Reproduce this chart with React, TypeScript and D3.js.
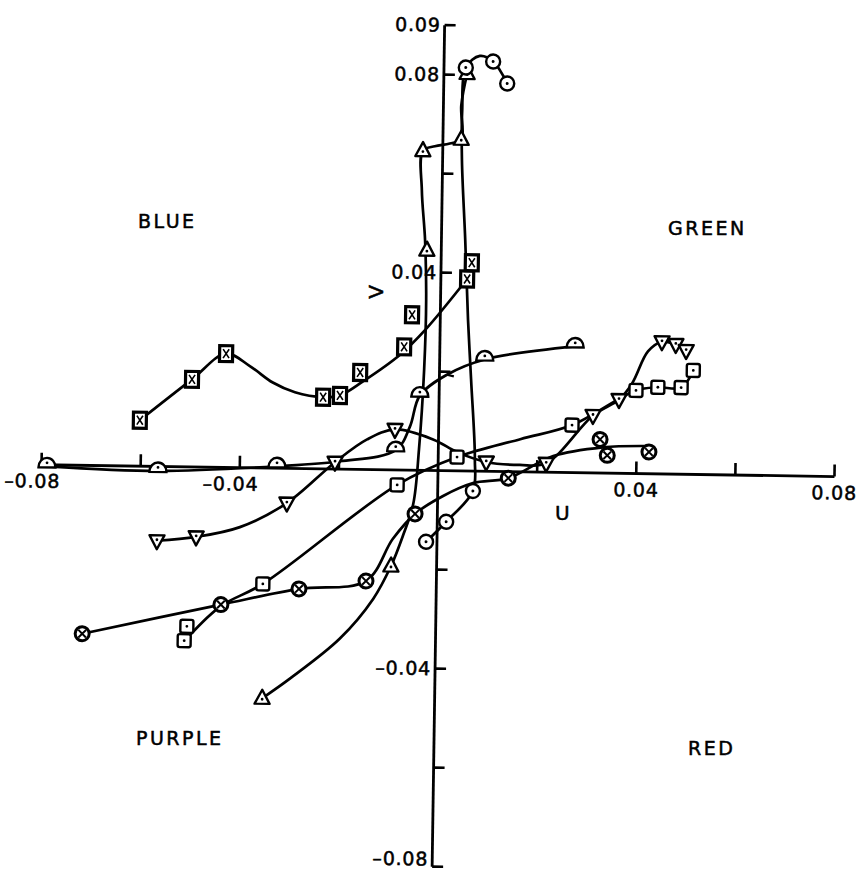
import * as d3 from "d3";

// axis ticks / labels (U horizontal, V vertical)
const U_TICKS = [-0.08, -0.06, -0.04, -0.02, 0.02, 0.04, 0.06, 0.08];
const U_LABELS = [-0.08, -0.04, 0.04, 0.08];
const V_TICKS = [-0.08, -0.06, -0.04, -0.02, 0.02, 0.04, 0.06, 0.08, 0.09];
const V_LABELS = [-0.08, -0.04, 0.04, 0.08, 0.09];

// crossed squares
const boxXPts = [[-0.0603, 0.0093], [-0.0499, 0.0177], [-0.0431, 0.023], [-0.0234, 0.0145], [-0.02, 0.0149], [-0.016, 0.0196], [-0.0072, 0.0249], [-0.0057, 0.0314], [0.0053, 0.0388], [0.0062, 0.0421]];
const boxXLine = [[-0.0603, 0.0093], [-0.0499, 0.0177], [-0.0431, 0.023], [-0.0382, 0.0205], [-0.0336, 0.0173], [-0.0291, 0.0154], [-0.0234, 0.0145], [-0.02, 0.0149], [-0.0154, 0.0178], [-0.008, 0.0233], [-0.003, 0.0284], [0.0053, 0.0388]];

// half circles
const domePts = [[-0.0789, -0.0003], [-0.0565, -0.0009], [-0.0325, 0.0004], [-0.0086, 0.004], [-0.0039, 0.0151], [0.0091, 0.0226], [0.0273, 0.0255]];
const domeLine = [[-0.0789, -0.0003], [-0.0565, -0.0009], [-0.0325, 0.0004], [-0.0198, 0.0016], [-0.0086, 0.004], [-0.0058, 0.0088], [-0.0039, 0.0151], [0.0015, 0.0194], [0.0091, 0.0226], [0.0273, 0.0255]];
const domeArrow = [0.0015, 0.0194];

// triangles
const triPts = [[-0.0348, -0.0465], [-0.0092, -0.0194], [-0.0029, 0.0445], [-0.004, 0.0646], [0.0037, 0.067], [0.0047, 0.0803]];
const triLine = [[-0.0348, -0.0465], [-0.0292, -0.0424], [-0.0193, -0.0342], [-0.0127, -0.0261], [-0.0092, -0.0194], [-0.0069, -0.0133], [-0.0049, -0.0068], [-0.0039, 0.0043], [-0.0031, 0.0204], [-0.0029, 0.0345], [-0.0033, 0.0465], [-0.0041, 0.0566], [-0.004, 0.0646], [-0.0016, 0.0655], [0.0014, 0.0661], [0.0037, 0.067], [0.0036, 0.0738], [0.0047, 0.0803]];

// dotted circles
const circleDotPts = [[-0.0022, -0.0144], [0.0018, -0.0103], [0.0071, -0.004], [0.0044, 0.0815], [0.0099, 0.0828], [0.0128, 0.0784]];
const circleDotLine = [[-0.0022, -0.0144], [0.0018, -0.0103], [0.0071, -0.004], [0.0074, 0.0024], [0.0064, 0.0185], [0.0056, 0.0306], [0.0048, 0.0467], [0.0039, 0.0627], [0.0038, 0.0728], [0.0044, 0.0815], [0.0072, 0.0839], [0.0099, 0.0828], [0.0128, 0.0784]];

// inverted triangles
const triDownPts = [[-0.0565, -0.015], [-0.0486, -0.0141], [-0.0304, -0.007], [-0.0208, 0.0014], [-0.0088, 0.0082], [0.0097, 0.0019], [0.0218, 0.0018], [0.0311, 0.0116], [0.0363, 0.0149], [0.0448, 0.0267], [0.0476, 0.0262], [0.0497, 0.025]];
const triDownLine = [[-0.0565, -0.015], [-0.0486, -0.0141], [-0.0398, -0.012], [-0.0304, -0.007], [-0.0208, 0.0014], [-0.0144, 0.0061], [-0.0088, 0.0082], [-0.0011, 0.0063], [0.0038, 0.0038], [0.0097, 0.0019], [0.0165, 0.0014], [0.0218, 0.0018], [0.0311, 0.0116], [0.0363, 0.0149], [0.0389, 0.0182], [0.042, 0.0247], [0.0448, 0.0267], [0.0476, 0.0262], [0.0497, 0.025]];

// dotted squares
const boxDotPts = [[-0.0502, -0.0322], [-0.0507, -0.0351], [-0.035, -0.0234], [-0.0082, -0.003], [0.0038, 0.0028], [0.0269, 0.0096], [0.0397, 0.0168], [0.0441, 0.0175], [0.0488, 0.0175], [0.0512, 0.021]];
const boxDotLine = [[-0.0496, -0.034], [-0.0434, -0.028], [-0.035, -0.0234], [-0.0082, -0.003], [0.0038, 0.0028], [0.0165, 0.0066], [0.0269, 0.0096], [0.0397, 0.0168], [0.0441, 0.0175], [0.0488, 0.0175], [0.0512, 0.021]];

// crossed circles
const circleXPts = [[-0.0713, -0.034], [-0.0434, -0.0277], [-0.0277, -0.0243], [-0.0142, -0.0225], [-0.0045, -0.0088], [0.0142, -0.0013], [0.0326, 0.0068], [0.0341, 0.0036], [0.0425, 0.0044]];
const circleXLine = [[-0.0713, -0.034], [-0.0434, -0.0277], [-0.0277, -0.0243], [-0.0142, -0.0225], [-0.0089, -0.0139], [-0.0045, -0.0088], [0.0011, -0.0051], [0.0071, -0.0024], [0.0142, -0.0013], [0.0232, 0.0033], [0.0332, 0.0052], [0.0417, 0.0056]];

const SERIES = [
  { shape: "boxX", pts: boxXPts, line: boxXLine },
  { shape: "dome", pts: domePts, line: domeLine },
  { shape: "tri", pts: triPts, line: triLine },
  { shape: "circleDot", pts: circleDotPts, line: circleDotLine },
  { shape: "triDown", pts: triDownPts, line: triDownLine },
  { shape: "boxDot", pts: boxDotPts, line: boxDotLine },
  { shape: "circleX", pts: circleXPts, line: circleXLine },
];

const QUADRANTS = [
  { text: "BLUE", x: 138, y: 228 },
  { text: "GREEN", x: 668, y: 235 },
  { text: "PURPLE", x: 136, y: 745 },
  { text: "RED", x: 688, y: 755 },
];

const W = 859;
const H = 872;
const CX = 438;
const CY = 471.5;
const TILT = 0.85; // the scan is slightly rotated
const FONT = "'DejaVu Sans', sans-serif";

const x = d3.scaleLinear().domain([-0.08, 0.08]).range([CX - 396.5, CX + 396.5]);
const y = d3.scaleLinear().domain([-0.08, 0.09]).range([CY + 0.08 * 4940, CY - 0.09 * 4960]);

const line = d3
  .line<number[]>()
  .x((d) => x(d[0]))
  .y((d) => y(d[1]))
  .curve(d3.curveCatmullRom.alpha(0.5));

const fmt = (v: number) => (v < 0 ? "–" : "") + Math.abs(v).toFixed(2);

function Marker({ shape, cx, cy }: { shape: string; cx: number; cy: number }) {
  const common = { fill: "#fff", stroke: "#000" };
  let body = null;
  if (shape === "circleDot") {
    body = (
      <>
        <circle r={7} {...common} strokeWidth={2.4} />
        <circle r={1.5} fill="#000" />
      </>
    );
  } else if (shape === "circleX") {
    body = (
      <>
        <circle r={7} {...common} strokeWidth={3} />
        <path d="M-3.8,-3.8L3.8,3.8M3.8,-3.8L-3.8,3.8" stroke="#000" strokeWidth={2} />
      </>
    );
  } else if (shape === "boxX") {
    body = (
      <>
        <rect x={-6.5} y={-8} width={13} height={16} {...common} strokeWidth={3.2} />
        <path d="M-3,-4.5L3,4.5M3,-4.5L-3,4.5" stroke="#000" strokeWidth={1.6} />
      </>
    );
  } else if (shape === "boxDot") {
    body = (
      <>
        <rect x={-6.5} y={-6.5} width={13} height={13} rx={2} {...common} strokeWidth={2.4} />
        <circle r={1.4} fill="#000" />
      </>
    );
  } else if (shape === "tri") {
    body = (
      <>
        <path d="M0,-8.5L7.5,5.5L-7.5,5.5Z" {...common} strokeWidth={2.4} strokeLinejoin="round" />
        <circle cy={1} r={1.4} fill="#000" />
      </>
    );
  } else if (shape === "triDown") {
    body = (
      <>
        <path d="M0,8.5L7.5,-5.5L-7.5,-5.5Z" {...common} strokeWidth={2.4} strokeLinejoin="round" />
        <circle cy={-1} r={1.4} fill="#000" />
      </>
    );
  } else if (shape === "dome") {
    body = (
      <>
        <path d="M-8.5,1A8.5,9.5 0 0 1 8.5,1Z" {...common} strokeWidth={2.4} />
        <circle cy={-3.5} r={1.4} fill="#000" />
      </>
    );
  }
  return <g transform={`translate(${cx},${cy})`}>{body}</g>;
}

export default function App() {
  const x0 = x(0);
  const y0 = y(0);
  const textInk = { stroke: "#000", strokeWidth: 0.5 };
  return (
    <div style={{ position: "absolute", left: 0, top: 0 }}>
      <svg width={W} height={H} viewBox={`0 0 ${W} ${H}`} style={{ display: "block", background: "#fff" }}>
        <g transform={`rotate(${TILT},${CX},${CY})`} fontFamily={FONT} fill="#000">
          {/* axes */}
          <line x1={x(-0.08)} x2={x(0.08)} y1={y0} y2={y0} stroke="#000" strokeWidth={2.8} />
          <line x1={x0} x2={x0} y1={y(0.09)} y2={y(-0.08)} stroke="#000" strokeWidth={2.8} />
          {U_TICKS.map((t) => (
            <line key={`ut${t}`} x1={x(t)} x2={x(t)} y1={y0} y2={y0 - 12} stroke="#000" strokeWidth={2.6} />
          ))}
          {V_TICKS.map((t) => (
            <line key={`vt${t}`} x1={x0} x2={x0 + 11} y1={y(t)} y2={y(t)} stroke="#000" strokeWidth={2.6} />
          ))}
          {U_LABELS.map((t) => (
            <text key={`ul${t}`} x={x(t) + (t < 0 ? -9 : 0)} y={y0 + 23} fontSize={19} textAnchor="middle" letterSpacing={0.8} {...textInk}>
              {fmt(t)}
            </text>
          ))}
          {V_LABELS.map((t) => (
            <text
              key={`vl${t}`}
              x={x0 - 4}
              y={t === -0.08 ? y(t) - 1 : y(t) + 6.5}
              fontSize={19}
              textAnchor="end"
              letterSpacing={0.8}
              {...textInk}
            >
              {fmt(t)}
            </text>
          ))}

          {/* series lines */}
          {SERIES.map((s) => (
            <path key={`l${s.shape}`} d={line(s.line) || ""} fill="none" stroke="#000" strokeWidth={2.7} strokeLinecap="round" />
          ))}
          <line
            x1={x(domeArrow[0])}
            y1={y(domeArrow[1])}
            x2={x(domeArrow[0]) + 7}
            y2={y(domeArrow[1]) + 1.5}
            stroke="#000"
            strokeWidth={2.2}
          />
          {/* markers */}
          {SERIES.map((s) =>
            s.pts.map((p, i) => <Marker key={`m${s.shape}${i}`} shape={s.shape} cx={x(p[0])} cy={y(p[1])} />)
          )}
        </g>

        <g fontFamily={FONT} fill="#000">
          {QUADRANTS.map((q) => (
            <text key={q.text} x={q.x} y={q.y} fontSize={19} letterSpacing={2.5} {...textInk}>
              {q.text}
            </text>
          ))}
          <text x={555} y={520} fontSize={20} {...textInk}>
            U
          </text>
          <text transform="translate(383,292) rotate(-90)" fontSize={20} textAnchor="middle" {...textInk}>
            V
          </text>
        </g>
      </svg>
    </div>
  );
}
